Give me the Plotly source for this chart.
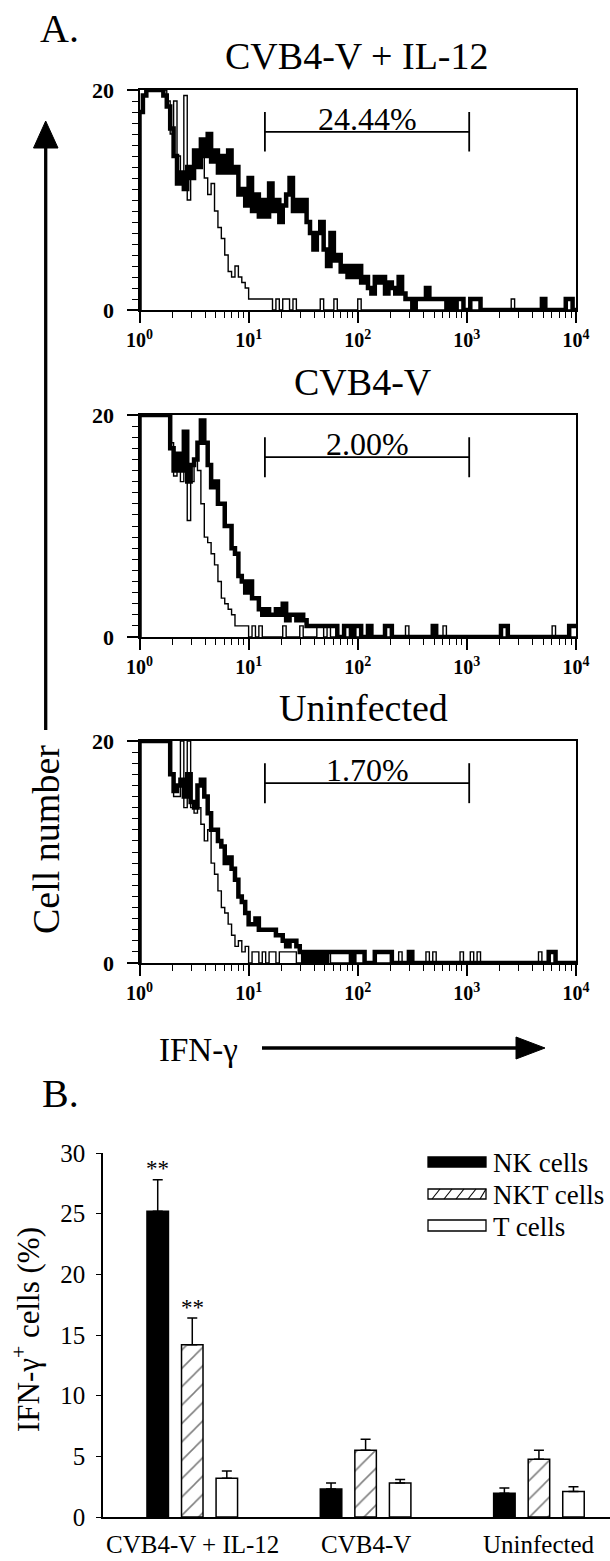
import math
import plotly.graph_objects as go

W, H = 610, 1561
FONT = "Liberation Serif, Times New Roman, serif"


def fx(p):
    return p / W


def fy(p):
    return 1 - p / H


# ---------------- Panel A : flow cytometry histograms ----------------
N_CHANNELS = 128          # channels over 4 log decades
LOG_DECADES = 4

P1_THICK = [
    18, 19.5, 20, 20, 20, 20, 20, 19.5, 18.5, 16.5,
    14, 11.5, 12.5, 11, 13, 12, 14.5, 13, 15.5, 14,
    16, 13.5, 14.5, 12.5, 14, 12.5, 14.5, 12.5, 13, 10.5,
    11, 9.5, 12, 9, 10.5, 8.5, 10, 8.5, 11.5, 9,
    10, 8, 9.5, 10.5, 12, 9, 10, 9, 10, 8,
    7, 5.5, 7, 8, 5.5, 4, 7, 4.5, 5, 3.5,
    4, 3, 4, 3, 4, 2.5, 3, 2, 1.5, 3,
    2.5, 3, 1.5, 2.5, 2, 1.5, 3, 1.5, 1, 1,
    0, 1, 1, 1, 2, 1, 1, 1, 1, 1,
    0, 1, 0, 1, 1, 0, 0, 1, 1, 1,
    0, 0, 0, 0, 0, 0, 0, 0, 0, 0,
    0, 0, 0, 0, 0, 0, 0, 0, 1, 0,
    0, 0, 0, 0, 0, 1, 1, 0,
]
P1_THIN = [
    18, 19.5, 20, 20, 20, 20, 20, 20, 19, 16,
    19, 14, 12, 19.5, 10, 13, 14, 13, 14, 12,
    10.5, 11.5, 9, 7.5, 6.5, 5, 3.5, 3, 4, 3,
    2.5, 2, 1, 1, 1, 1, 1, 1, 1, 0,
    1, 0, 1, 1, 0, 1, 0, 0, 0, 0,
    0, 0, 0, 1, 0, 0, 0, 1, 0, 0,
    0, 0, 0, 0, 1, 0, 0, 0, 0, 0,
    0, 0, 0, 0, 0, 0, 0, 0, 0, 0,
    0, 0, 0, 0, 0, 0, 0, 0, 0, 0,
    0, 0, 0, 0, 0, 0, 0, 0, 0, 0,
    0, 0, 0, 0, 0, 0, 0, 0, 0, 1,
    0, 0, 0, 0, 0, 0, 0, 0, 0, 0,
    0, 0, 0, 0, 0, 0, 0, 0,
]
P2_THICK = [
    20, 20, 20, 20, 20, 20, 20, 20, 20, 17,
    15, 16.5, 15, 18.5, 14, 15.5, 16, 17.5, 19.5, 17.5,
    15.5, 13.5, 14, 12, 12, 10, 10, 8, 7.5, 5.5,
    5, 4, 5, 3.5, 3.5, 2.5, 2, 2.5, 2, 2,
    2.5, 2, 3, 1.5, 2, 2, 1.5, 2, 1.5, 1,
    1, 1, 1, 1, 1, 1, 1, 1, 0, 0,
    1, 1, 0, 1, 1, 0, 0, 1, 0, 0,
    0, 0, 1, 1, 0, 0, 0, 0, 0, 0,
    0, 0, 0, 0, 0, 0, 1, 0, 0, 0,
    0, 0, 0, 0, 0, 0, 0, 0, 0, 0,
    0, 0, 0, 0, 0, 0, 1, 1, 0, 0,
    0, 0, 0, 0, 0, 0, 0, 0, 0, 0,
    0, 0, 0, 0, 0, 0, 1, 1,
]
P2_THIN = [
    20, 20, 20, 20, 20, 20, 20, 20, 20, 17.5,
    14.5, 16, 14, 17, 10.5, 14, 16, 15, 12, 9,
    8.5, 7.5, 6.5, 5, 3.5, 3, 2.5, 2, 1, 1,
    1, 1, 0, 1, 0, 1, 0, 0, 0, 0,
    0, 0, 1, 0, 0, 0, 0, 1, 0, 0,
    0, 0, 1, 1, 0, 1, 0, 0, 0, 0,
    0, 0, 0, 0, 0, 0, 0, 0, 0, 0,
    0, 0, 0, 0, 0, 0, 0, 0, 1, 0,
    0, 0, 0, 0, 0, 0, 0, 0, 0, 1,
    0, 0, 0, 0, 0, 0, 0, 0, 0, 0,
    0, 0, 0, 0, 0, 0, 0, 0, 0, 0,
    0, 0, 0, 0, 0, 0, 0, 0, 0, 0,
    0, 1, 0, 0, 0, 0, 0, 0,
]
P3_THICK = [
    20, 20, 20, 20, 20, 20, 20, 20, 20, 17,
    15.5, 16, 16.5, 15, 17, 14.5, 14, 16, 16.5, 15,
    13.5, 12, 12, 11, 10.5, 9, 9.5, 8.5, 7.5, 6,
    5.5, 4.5, 3.5, 3.5, 4, 3, 3, 3, 3, 3,
    2.5, 2.5, 2, 1.5, 2, 2, 1.5, 1, 0, 1,
    0, 1, 0, 1, 0, 1, 1, 1, 1, 1,
    1, 1, 0, 1, 1, 1, 0, 0, 0, 1,
    1, 1, 1, 1, 0, 0, 0, 0, 0, 1,
    0, 0, 0, 0, 0, 0, 0, 0, 0, 0,
    0, 0, 0, 0, 0, 0, 0, 0, 0, 0,
    0, 0, 0, 0, 0, 0, 0, 0, 0, 0,
    0, 0, 0, 0, 0, 0, 0, 0, 0, 0,
    1, 1, 0, 0, 0, 0, 0, 0,
]
P3_THIN = [
    20, 20, 20, 20, 20, 20, 20, 20, 20, 17,
    15, 15, 20, 14, 20, 14, 13.5, 14, 12.5, 11,
    12, 9, 8, 6.5, 5, 4.5, 3.5, 2.5, 1.5, 2,
    1, 1.5, 0, 1, 1, 0, 1, 0, 1, 1,
    0, 1, 1, 1, 1, 1, 0, 0, 0, 0,
    1, 1, 1, 1, 1, 1, 0, 0, 0, 0,
    0, 0, 0, 0, 0, 0, 0, 0, 0, 0,
    0, 0, 0, 0, 0, 0, 1, 0, 0, 0,
    0, 0, 0, 0, 1, 0, 1, 0, 0, 0,
    0, 0, 0, 0, 1, 0, 0, 1, 0, 1,
    0, 0, 0, 0, 0, 0, 0, 0, 0, 0,
    0, 0, 0, 0, 0, 0, 0, 1, 0, 0,
    0, 0, 0, 0, 0, 0, 0, 0,
]

PANEL_TITLES = ["CVB4-V + IL-12", "CVB4-V", "Uninfected"]
GATE_PERCENT = ["24.44%", "2.00%", "1.70%"]
GATE_LO = 14.1
GATE_HI = 1050
GATE_Y = 16.2
GATE_HALF = 1.8
LABEL_Y = 17.4
X_TICK_VALUES = [1, 10, 100, 1000, 10000]
X_TICK_LABELS = ["10<sup>0</sup>", "10<sup>1</sup>", "10<sup>2</sup>",
                 "10<sup>3</sup>", "10<sup>4</sup>"]
Y_TICK_VALUES = [0, 20]
Y_TICK_LABELS = ["0", "20"]

# ---------------- Panel B : bar chart ----------------
GROUPS = ["CVB4-V + IL-12", "CVB4-V", "Uninfected"]
NK = [25.2, 2.3, 1.95]
NK_ERR = [2.6, 0.5, 0.45]
NKT = [14.2, 5.5, 4.75]
NKT_ERR = [2.2, 0.9, 0.75]
TC = [3.2, 2.8, 2.1]
TC_ERR = [0.6, 0.3, 0.4]
SERIES_NAMES = ["NK cells", "NKT cells", "T cells"]
SIGNIF = [["**", "", ""], ["**", "", ""], ["", "", ""]]

for arr in (P1_THICK, P1_THIN, P2_THICK, P2_THIN, P3_THICK, P3_THIN):
    assert len(arr) == N_CHANNELS, len(arr)

edges = [10 ** (LOG_DECADES * k / N_CHANNELS) for k in range(N_CHANNELS + 1)]

fig = go.Figure()

PANEL_TOP = [90, 415, 741]
PANEL_BOT = [310, 637, 963]
X_LEFT, X_RIGHT = 139.5, 576
TITLE_Y = [56, 382, 708]
TITLE_X = [357, 363, 363]

panels = [(P1_THICK, P1_THIN), (P2_THICK, P2_THIN), (P3_THICK, P3_THIN)]
annotations = []
shapes = []


def txt(text, x, y, size, xanchor="center", yanchor="middle", angle=0):
    return dict(text=text, x=fx(x), y=fy(y), xref="paper", yref="paper",
                showarrow=False, xanchor=xanchor, yanchor=yanchor, textangle=angle,
                font=dict(family=FONT, size=size, color="black"))


for i, (thick, thin) in enumerate(panels):
    n = i + 1
    xa = "x" if n == 1 else f"x{n}"
    ya = "y" if n == 1 else f"y{n}"
    for vals, lw in ((thick, 4.5), (thin, 1.4)):
        xs = [edges[0]] + edges[:N_CHANNELS] + [edges[N_CHANNELS]]
        ys = [0] + list(vals) + [vals[-1]]
        fig.add_trace(go.Scatter(x=xs, y=ys, mode="lines",
                                 line=dict(color="black", width=lw, shape="hv"),
                                 xaxis=xa, yaxis=ya, showlegend=False,
                                 hoverinfo="skip"))
    # gate marker
    fig.add_trace(go.Scatter(x=[GATE_LO, GATE_HI], y=[GATE_Y, GATE_Y], mode="lines",
                             line=dict(color="black", width=1.8), xaxis=xa, yaxis=ya,
                             showlegend=False, hoverinfo="skip"))
    for gx in (GATE_LO, GATE_HI):
        fig.add_trace(go.Scatter(x=[gx, gx], y=[GATE_Y - GATE_HALF, GATE_Y + GATE_HALF],
                                 mode="lines", line=dict(color="black", width=1.8),
                                 xaxis=xa, yaxis=ya, showlegend=False, hoverinfo="skip"))
    annotations.append(dict(text=GATE_PERCENT[i], x=math.log10(math.sqrt(GATE_LO * GATE_HI)),
                            y=LABEL_Y, xref=xa, yref=ya, showarrow=False,
                            xanchor="center", yanchor="middle",
                            font=dict(family=FONT, size=32, color="black")))
    axis_x = dict(domain=[fx(X_LEFT), fx(X_RIGHT)], type="log", range=[0, LOG_DECADES],
                  anchor=ya, showline=True, linecolor="black", linewidth=2, mirror=True,
                  ticks="outside", tickvals=X_TICK_VALUES,
                  ticktext=[f"<b>{t}</b>" for t in X_TICK_LABELS],
                  ticklen=11, tickwidth=1.6, tickcolor="black",
                  tickfont=dict(family=FONT, size=20, color="black"),
                  minor=dict(ticks="outside", ticklen=6, tickwidth=1.3, tickcolor="black",
                             tickvals=[m * 10 ** d for d in range(LOG_DECADES) for m in range(2, 10)]),
                  showgrid=False, zeroline=False, fixedrange=True, automargin=False)
    axis_y = dict(domain=[fy(PANEL_BOT[i]), fy(PANEL_TOP[i])], range=[0, 20], anchor=xa,
                  showline=True, linecolor="black", linewidth=2, mirror=True,
                  ticks="outside", tickvals=Y_TICK_VALUES,
                  ticktext=[f"<b>{t}</b>" for t in Y_TICK_LABELS],
                  ticklen=11, tickwidth=1.6, tickcolor="black",
                  tickfont=dict(family=FONT, size=22, color="black"),
                  minor=dict(ticks="outside", ticklen=6, tickwidth=1.3, tickcolor="black",
                             tickvals=list(range(1, 20))),
                  ticklabelstandoff=8,
                  showgrid=False, zeroline=False, fixedrange=True, automargin=False)
    fig.layout[f"xaxis{'' if n == 1 else n}"] = axis_x
    fig.layout[f"yaxis{'' if n == 1 else n}"] = axis_y
    annotations.append(txt(PANEL_TITLES[i], TITLE_X[i], TITLE_Y[i], 38))

# ---------------- Panel B ----------------
BARGAP = 0.402
GROUPGAP = 0.378
slot = (1 - BARGAP) / 3
xcat = list(range(len(GROUPS)))
bar_specs = [
    (NK, NK_ERR, dict(color="black", line=dict(color="black", width=1.5))),
    (NKT, NKT_ERR, dict(color="white", line=dict(color="black", width=1.5),
                        pattern=dict(shape="/", fgcolor="black", bgcolor="white",
                                     size=13, solidity=0.12))),
    (TC, TC_ERR, dict(color="white", line=dict(color="black", width=1.5))),
]
for j, (vals, errs, marker) in enumerate(bar_specs):
    fig.add_trace(go.Bar(x=xcat, y=vals, name=SERIES_NAMES[j], marker=marker,
                         error_y=dict(type="data", symmetric=False, array=errs,
                                      arrayminus=[0] * len(errs), width=5,
                                      thickness=1.5, color="black"),
                         xaxis="x4", yaxis="y4", showlegend=False, hoverinfo="skip"))
    for g in xcat:
        if SIGNIF[j][g]:
            annotations.append(dict(text=SIGNIF[j][g], x=g + (j - 1) * slot,
                                    y=vals[g] + errs[g], xref="x4", yref="y4",
                                    showarrow=False, xanchor="center", yanchor="middle",
                                    yshift=11,
                                    font=dict(family=FONT, size=23, color="black")))

fig.update_layout(barmode="group", bargap=BARGAP, bargroupgap=GROUPGAP)
fig.layout.xaxis4 = dict(domain=[fx(103), 1.0], range=[-0.515, 2.41], anchor="y4",
                         showline=True, linecolor="black", linewidth=1.5,
                         ticks="", showticklabels=False, showgrid=False, zeroline=False,
                         fixedrange=True, automargin=False)
fig.layout.yaxis4 = dict(domain=[fy(1517), fy(1153)], range=[0, 30], anchor="x4",
                         showline=True, linecolor="black", linewidth=1.5,
                         ticks="outside", ticklen=5, tickwidth=1.3, tickcolor="black",
                         tickvals=list(range(0, 31, 5)), ticklabelstandoff=6,
                         tickfont=dict(family=FONT, size=25, color="black"),
                         showgrid=False, zeroline=False, fixedrange=True, automargin=False)

for g, name in enumerate(GROUPS):
    annotations.append(dict(text=name, x=g, y=fy(1544), xref="x4", yref="paper",
                            showarrow=False, xanchor="center", yanchor="middle",
                            font=dict(family=FONT, size=25, color="black")))

# custom legend
LEG_X0, LEG_X1 = 428, 486
LEG_ROWS = [(1157, 1167), (1189, 1199), (1220, 1231)]
for j, (y0, y1) in enumerate(LEG_ROWS):
    fill = "black" if j == 0 else "white"
    shapes.append(dict(type="rect", xref="paper", yref="paper", x0=fx(LEG_X0), x1=fx(LEG_X1),
                       y0=fy(y1), y1=fy(y0), fillcolor=fill,
                       line=dict(color="black", width=1.3)))
    if j == 1:
        step = 12
        for s in range(5):
            xa0 = LEG_X0 + 4 + s * step
            xa1 = min(xa0 + 8, LEG_X1)
            shapes.append(dict(type="line", xref="paper", yref="paper",
                               x0=fx(xa0), y0=fy(y1), x1=fx(xa1), y1=fy(y0),
                               line=dict(color="black", width=1.1)))
    annotations.append(txt(SERIES_NAMES[j], 491, (y0 + y1) / 2 + 1, 27, xanchor="left"))

# axis titles / panel letters
annotations += [
    txt("A.", 59, 28, 40),
    txt("B.", 60, 1093, 40),
    txt("Cell number", 46, 840, 38, angle=-90),
    txt("IFN-γ", 198, 1050, 33),
    txt("IFN-γ<sup>+</sup> cells (%)", 26, 1330, 31, angle=-90),
]

# arrows
shapes += [
    dict(type="line", xref="paper", yref="paper", x0=fx(45.7), x1=fx(45.7),
         y0=fy(145), y1=fy(730), line=dict(color="black", width=3.3)),
    dict(type="path", xref="paper", yref="paper",
         path=f"M {fx(45.7)} {fy(121)} L {fx(33.5)} {fy(148)} L {fx(58)} {fy(148)} Z",
         fillcolor="black", line=dict(color="black", width=1)),
    dict(type="line", xref="paper", yref="paper", x0=fx(262), x1=fx(520),
         y0=fy(1048), y1=fy(1048), line=dict(color="black", width=3.5)),
    dict(type="path", xref="paper", yref="paper",
         path=f"M {fx(545)} {fy(1048)} L {fx(516)} {fy(1037)} L {fx(516)} {fy(1059)} Z",
         fillcolor="black", line=dict(color="black", width=1)),
]

fig.update_layout(width=W, height=H, margin=dict(l=0, r=0, t=0, b=0, autoexpand=False),
                  paper_bgcolor="white", plot_bgcolor="white",
                  annotations=annotations, shapes=shapes, showlegend=False,
                  font=dict(family=FONT, color="black"))

fig.write_html("out.html", config={"displayModeBar": False},
               post_script="document.body.style.margin='0';")
